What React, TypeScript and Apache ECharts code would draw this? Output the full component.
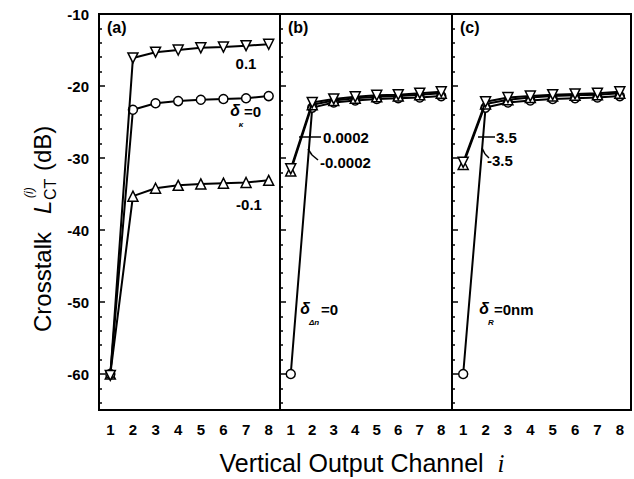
import React, { useEffect, useRef } from "react";
import * as echarts from "echarts";

const channels = ["1", "2", "3", "4", "5", "6", "7", "8"];
const yMajorTicks = [-60, -50, -40, -30, -20, -10];
const yMinorTicks = [-64, -62, -58, -56, -54, -52, -48, -46, -44, -42, -38, -36, -34, -32, -28, -26, -24, -22, -18, -16, -14, -12];
const panelLabels = ["(a)", "(b)", "(c)"];

// panel (a): delta kappa
const aPlus = [-60.2, -16.1, -15.3, -15.0, -14.7, -14.6, -14.4, -14.2];
const aZero = [-60.0, -23.3, -22.4, -22.1, -21.9, -21.8, -21.7, -21.4];
const aMinus = [-60.0, -35.3, -34.2, -33.8, -33.6, -33.5, -33.4, -33.1];
// panel (b): delta delta-n
const bPlus = [-31.5, -22.3, -21.8, -21.5, -21.3, -21.2, -21.0, -20.8];
const bMinus = [-31.8, -22.6, -22.0, -21.7, -21.5, -21.4, -21.2, -21.0];
const bZero = [-60.0, -23.0, -22.3, -22.0, -21.8, -21.7, -21.6, -21.4];
// panel (c): delta R
const cPlus = [-30.6, -22.2, -21.6, -21.4, -21.2, -21.1, -21.0, -20.8];
const cMinus = [-30.9, -22.5, -21.9, -21.6, -21.4, -21.3, -21.2, -21.0];
const cZero = [-60.0, -23.0, -22.3, -22.0, -21.8, -21.7, -21.6, -21.4];

const FONT = "'Liberation Sans', Arial, Helvetica, sans-serif";

const grids = [
  { left: 99, width: 181 },
  { left: 280, width: 172 },
  { left: 452, width: 179 },
];

function mkSeries(panel: number, data: number[], kind: "circle" | "up" | "down", z: number) {
  return {
    type: "line",
    xAxisIndex: panel,
    yAxisIndex: panel * 2,
    data,
    symbol: kind === "circle" ? "circle" : "triangle",
    symbolRotate: kind === "down" ? 180 : 0,
    symbolSize: kind === "circle" ? 9 : 10,
    showSymbol: true,
    lineStyle: { color: "#000", width: 2 },
    itemStyle: { color: "#fff", borderColor: "#000", borderWidth: 1.5 },
    z,
  };
}

function txt(x: number, y: number, text: string, opts: any = {}) {
  return {
    type: "text",
    x,
    y,
    z: 100,
    style: {
      text,
      fill: "#000",
      font: `${opts.italic ? "italic " : ""}${opts.bold === false ? "" : "bold "}${opts.size || 15}px ${opts.family || FONT}`,
      textAlign: opts.align || "left",
      textVerticalAlign: "middle",
    },
  };
}

function line(x1: number, y1: number, x2: number, y2: number) {
  return {
    type: "line",
    z: 100,
    shape: { x1, y1, x2, y2 },
    style: { stroke: "#000", lineWidth: 1.5 },
  };
}

export default function App() {
  const ref = useRef<HTMLDivElement>(null);

  useEffect(() => {
    if (!ref.current) return;
    const chart = echarts.init(ref.current, undefined, { renderer: "svg" });

    const xAxis = grids.map((_, i) => ({
      type: "category",
      gridIndex: i,
      data: channels,
      boundaryGap: true,
      axisLine: { lineStyle: { color: "#000", width: 2 } },
      axisTick: { alignWithLabel: true, inside: true, length: 6, lineStyle: { color: "#000", width: 1.5 } },
      axisLabel: { color: "#000", fontFamily: FONT, fontWeight: "bold", fontSize: 15, margin: 12 },
      splitLine: { show: false },
    }));

    const yAxis: any[] = [];
    grids.forEach((_, i) => {
      yAxis.push({
        type: "value",
        gridIndex: i,
        min: -65,
        max: -10,
        position: "left",
        axisLine: { show: true, lineStyle: { color: "#000", width: 2 } },
        axisTick: { show: true, inside: true, length: 6, customValues: yMajorTicks, lineStyle: { color: "#000", width: 1.5 } },
        axisLabel: {
          show: i === 0,
          customValues: yMajorTicks,
          color: "#000",
          fontFamily: FONT,
          fontWeight: "bold",
          fontSize: 15,
          margin: 10,
        },
        splitLine: { show: false },
      });
      yAxis.push({
        type: "value",
        gridIndex: i,
        min: -65,
        max: -10,
        position: "left",
        axisLine: { show: false },
        axisTick: { show: true, inside: true, length: 3, customValues: yMinorTicks, lineStyle: { color: "#000", width: 1.5 } },
        axisLabel: { show: false },
        splitLine: { show: false },
      });
    });

    const series = [
      mkSeries(0, aMinus, "up", 2),
      mkSeries(0, aZero, "circle", 3),
      mkSeries(0, aPlus, "down", 4),
      mkSeries(1, bZero, "circle", 2),
      mkSeries(1, bMinus, "up", 3),
      mkSeries(1, bPlus, "down", 4),
      mkSeries(2, cZero, "circle", 2),
      mkSeries(2, cMinus, "up", 3),
      mkSeries(2, cPlus, "down", 4),
    ];

    // Y axis title (rotated group)
    const ySize = 24;
    const yTitleChildren = [
      { type: "text", x: 0, y: 0, style: { text: "Crosstalk", fill: "#000", font: `${ySize}px ${FONT}`, textAlign: "left", textVerticalAlign: "middle" } },
      { type: "text", x: 118, y: 0, style: { text: "L", fill: "#000", font: `italic ${ySize}px ${FONT}`, textAlign: "left", textVerticalAlign: "middle" } },
      { type: "text", x: 134, y: -13, style: { text: "(i)", fill: "#000", font: `italic 12px ${FONT}`, textAlign: "left", textVerticalAlign: "middle" } },
      { type: "text", x: 132, y: 8, style: { text: "CT", fill: "#000", font: `16px ${FONT}`, textAlign: "left", textVerticalAlign: "middle" } },
      { type: "text", x: 161, y: 0, style: { text: "(dB)", fill: "#000", font: `${ySize}px ${FONT}`, textAlign: "left", textVerticalAlign: "middle" } },
    ];

    const graphic: any[] = [
      {
        type: "group",
        x: 42,
        y: 332,
        rotation: Math.PI / 2,
        children: yTitleChildren,
      },
      {
        type: "text",
        x: 362,
        y: 463,
        style: {
          text: "{a|Vertical Output Channel  }{b|i}",
          textAlign: "center",
          textVerticalAlign: "middle",
          rich: {
            a: { fontFamily: FONT, fontSize: 25, fill: "#000", color: "#000" },
            b: { fontFamily: "'Liberation Serif', 'DejaVu Serif', serif", fontStyle: "italic", fontSize: 25, fill: "#000", color: "#000" },
          },
        },
      },
      // panel labels
      txt(grids[0].left + 8, 27, panelLabels[0], { size: 16 }),
      txt(grids[1].left + 8, 27, panelLabels[1], { size: 16 }),
      txt(grids[2].left + 8, 27, panelLabels[2], { size: 16 }),
      // panel (a) annotations
      txt(246, 63, "0.1", { align: "center" }),
      txt(235, 110, "δ", { italic: true, size: 16, align: "center" }),
      txt(241, 124, "κ", { italic: true, size: 8, align: "center" }),
      txt(244, 111, "=0"),
      txt(249, 204, "-0.1", { align: "center" }),
      // panel (b)
      line(299, 137, 321, 137),
      txt(323, 137, "0.0002"),
      line(308, 149, 312, 155),
      line(312, 155, 318, 160),
      txt(320, 162, "-0.0002"),
      txt(305, 308, "δ", { italic: true, size: 16, align: "center" }),
      txt(314, 322, "Δn", { italic: true, size: 8, align: "center" }),
      txt(321, 309, "=0"),
      // panel (c)
      line(478, 137, 495, 137),
      txt(496, 137, "3.5"),
      line(482, 148, 485, 154),
      line(485, 154, 489, 158),
      txt(487, 160, "-3.5"),
      txt(484, 308, "δ", { italic: true, size: 16, align: "center" }),
      txt(491, 322, "R", { italic: true, size: 8, align: "center" }),
      txt(494, 309, "=0nm"),
    ];

    chart.setOption({
      animation: false,
      backgroundColor: "#fff",
      textStyle: { fontFamily: FONT },
      grid: grids.map((g) => ({
        left: g.left,
        width: g.width,
        top: 14,
        bottom: 69,
        show: true,
        borderColor: "#000",
        borderWidth: 2,
        backgroundColor: "transparent",
      })),
      xAxis,
      yAxis,
      series,
      graphic,
    });

    return () => chart.dispose();
  }, []);

  return (
    <div
      ref={ref}
      style={{ position: "absolute", left: 0, top: 0, width: 634, height: 479, background: "#fff" }}
    />
  );
}
